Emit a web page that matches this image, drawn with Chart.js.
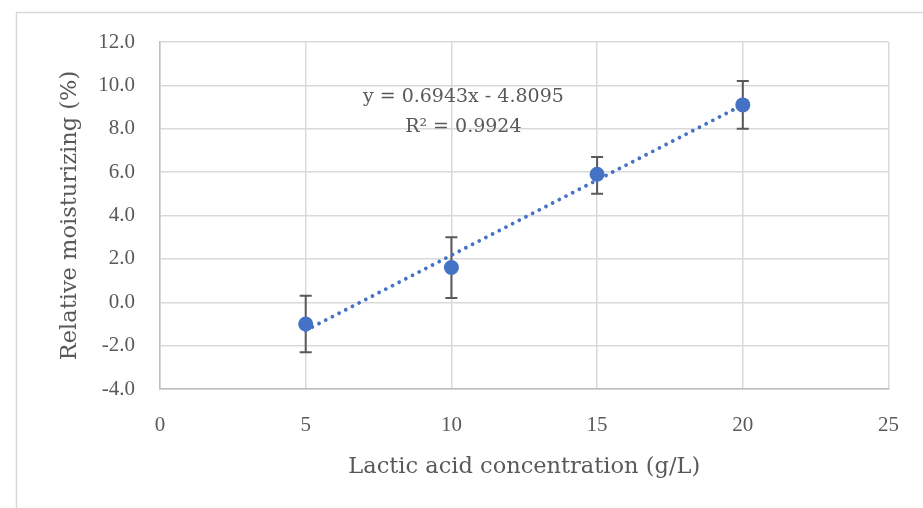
<!DOCTYPE html>
<html><head><meta charset="utf-8">
<script src="https://cdn.jsdelivr.net/npm/chart.js@4.4.0/dist/chart.umd.min.js"></script>
<style>html,body{margin:0;padding:0;background:#fff;overflow:hidden}canvas{display:block}</style>
</head><body>
<canvas id="c" width="923" height="508"></canvas>
<script>
const concentrations = [5, 10, 15, 20];
const moisturizing = [-1.0, 1.6, 5.9, 9.1];
const errLow = [-2.3, 0.2, 5.0, 8.0];
const errHigh = [0.3, 3.0, 6.7, 10.2];
const trendX = [5, 20];
const trendY = [-1.3, 9.1];
const xTickValues = [0, 5, 10, 15, 20, 25];
const yTickValues = [-4, -2, 0, 2, 4, 6, 8, 10, 12];
const equationLines = ['y = 0.6943x - 4.8095', 'R\u00B2 = 0.9924'];
const xTitle = 'Lactic acid concentration (g/L)';
const yTitle = 'Relative moisturizing (%)';

const TEXT = '#595959';
const BLUE = '#4472C4';
const TICK_FONT = {family: '"Liberation Serif", serif', size: 21};
const TITLE_FONT = {family: '"DejaVu Serif", serif', size: 22.5};
const EQ_FONT = '19px "DejaVu Serif", serif';

const frame = {
  id: 'frame',
  beforeDraw(chart) {
    const ctx = chart.ctx;
    ctx.save();
    ctx.fillStyle = '#fff';
    ctx.fillRect(0, 0, chart.width, chart.height);
    ctx.strokeStyle = '#d9d9d9';
    ctx.lineWidth = 1.5;
    ctx.strokeRect(16.5, 12.5, 1200, 1200);
    ctx.restore();
  }
};

const errorBars = {
  id: 'errorBars',
  beforeDatasetsDraw(chart) {
    const {ctx, scales: {x, y}} = chart;
    ctx.save();
    ctx.strokeStyle = TEXT;
    ctx.lineWidth = 2;
    concentrations.forEach((c, i) => {
      const px = x.getPixelForValue(c);
      const yl = y.getPixelForValue(errLow[i]);
      const yh = y.getPixelForValue(errHigh[i]);
      ctx.beginPath();
      ctx.moveTo(px, yl); ctx.lineTo(px, yh);
      ctx.moveTo(px - 6, yl); ctx.lineTo(px + 6, yl);
      ctx.moveTo(px - 6, yh); ctx.lineTo(px + 6, yh);
      ctx.stroke();
    });
    ctx.restore();
  }
};

const equation = {
  id: 'equation',
  afterDatasetsDraw(chart, args, opts) {
    const {ctx, scales: {x, y}} = chart;
    ctx.save();
    ctx.fillStyle = TEXT;
    ctx.font = EQ_FONT;
    ctx.textAlign = 'center';
    ctx.textBaseline = 'middle';
    const cx = x.getPixelForValue(opts.x);
    equationLines.forEach((line, i) => {
      ctx.fillText(line, cx, y.getPixelForValue(opts.y[i]));
    });
    ctx.restore();
  }
};

new Chart(document.getElementById('c'), {
  type: 'scatter',
  data: {
    datasets: [
      {
        label: 'Trend',
        data: trendX.map((v, i) => ({x: v, y: trendY[i]})),
        showLine: true,
        pointRadius: 0,
        borderColor: BLUE,
        borderWidth: 3.8,
        borderDash: [0.01, 7.5],
        borderCapStyle: 'round',
        fill: false,
        order: 2
      },
      {
        label: 'Relative moisturizing',
        data: concentrations.map((v, i) => ({x: v, y: moisturizing[i]})),
        pointRadius: 7.5,
        pointBackgroundColor: BLUE,
        pointBorderColor: BLUE,
        pointBorderWidth: 0,
        order: 1
      }
    ]
  },
  options: {
    responsive: false,
    devicePixelRatio: 1,
    animation: false,
    events: [],
    layout: {padding: {left: 0, right: 33, top: 42, bottom: 0}},
    plugins: {
      legend: {display: false},
      tooltip: {enabled: false},
      equation: {x: 10.41, y: [9.46, 8.08]}
    },
    scales: {
      x: {
        type: 'linear',
        min: 0, max: 25,
        afterBuildTicks(s) { s.ticks = xTickValues.map(v => ({value: v})); },
        afterFit(s) { s.height = 508 - 389; },
        grid: {color: '#d9d9d9', lineWidth: 1.5, drawTicks: false},
        border: {color: '#bfbfbf', width: 1.5},
        ticks: {color: TEXT, font: TICK_FONT, padding: 24, maxRotation: 0, callback: v => String(v)},
        title: {display: true, text: xTitle, color: TEXT, font: TITLE_FONT, padding: {top: 0, bottom: 27}}
      },
      y: {
        type: 'linear',
        min: -4, max: 12,
        afterBuildTicks(s) { s.ticks = yTickValues.map(v => ({value: v})); },
        afterFit(s) { s.width = 160; },
        grid: {color: '#d9d9d9', lineWidth: 1.5, drawTicks: false},
        border: {color: '#bfbfbf', width: 1.5},
        ticks: {color: TEXT, font: TICK_FONT, padding: 25, callback: v => Number(v).toFixed(1)},
        title: {display: true, text: yTitle, color: TEXT, font: TITLE_FONT, padding: {top: 57, bottom: 0}}
      }
    }
  },
  plugins: [frame, errorBars, equation]
});
</script>
</body></html>
